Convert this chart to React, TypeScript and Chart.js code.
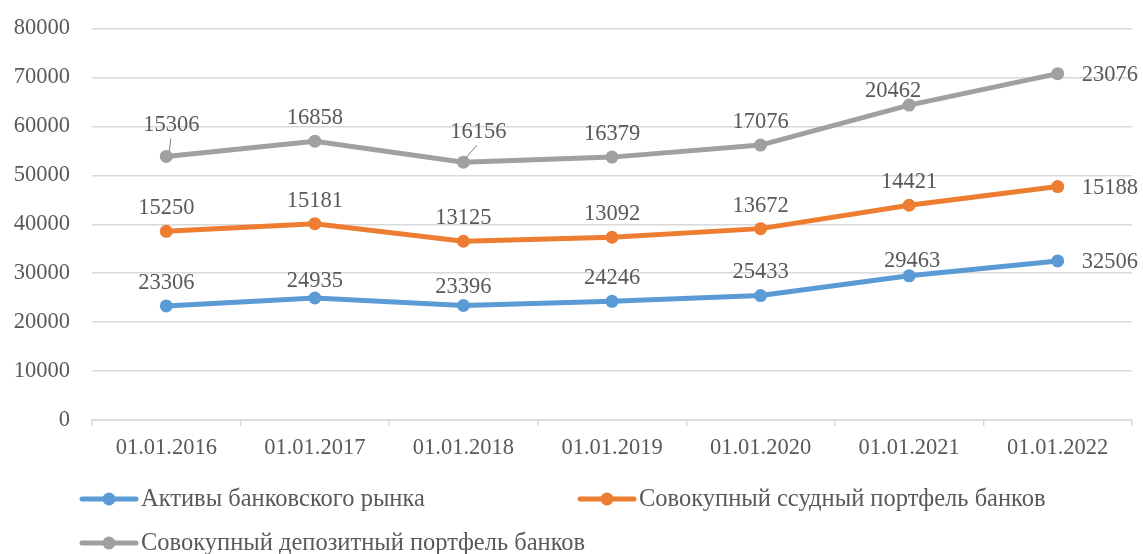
import React, { useEffect, useRef } from "react";
import { Chart, registerables } from "chart.js";

Chart.register(...registerables);

const categories = ["01.01.2016", "01.01.2017", "01.01.2018", "01.01.2019", "01.01.2020", "01.01.2021", "01.01.2022"];
const seriesNames = [
  "Активы банковского рынка",
  "Совокупный ссудный портфель банков",
  "Совокупный депозитный портфель банков",
];
const assets = [23306, 24935, 23396, 24246, 25433, 29463, 32506];
const loans = [15250, 15181, 13125, 13092, 13672, 14421, 15188];
const deposits = [15306, 16858, 16156, 16379, 17076, 20462, 23076];
const colors = ["#5B9BD5", "#ED7D31", "#9FA0A0"];

const FONT = "'Liberation Serif', 'Times New Roman', serif";
const TEXT = "#595959";
const FS = 22.5;
const LEGEND_FS = 24.5;
const SHIFT = 7;

// label nudges (style only): key "dataset-index" -> [dx, dy, leaderLine]
const labelNudges: Record<string, [number, number, boolean]> = {
  "0-1": [0, -17, false],
  "0-2": [0, -18, false],
  "0-5": [3, -15, false],
  "2-0": [5, -31, true],
  "2-2": [15, -30, true],
  "2-5": [-16, -14, false],
};

const labelPlugin = {
  id: "valueLabels",
  afterDatasetsDraw(chart: any) {
    const ctx = chart.ctx;
    ctx.save();
    ctx.font = `${FS}px ${FONT}`;
    chart.data.datasets.forEach((ds: any, di: number) => {
      const meta = chart.getDatasetMeta(di);
      meta.data.forEach((pt: any, i: number) => {
        const v = ds.data[i];
        const last = i === ds.data.length - 1;
        ctx.textBaseline = "middle";
        ctx.fillStyle = TEXT;
        if (last) {
          ctx.textAlign = "left";
          ctx.fillText(String(v), pt.x + 24, pt.y + 1);
        } else {
          const n = labelNudges[`${di}-${i}`] || [0, -23, false];
          ctx.textAlign = "center";
          ctx.fillText(String(v), pt.x + n[0], pt.y + n[1]);
          if (n[2]) {
            ctx.strokeStyle = "#7F7F7F";
            ctx.lineWidth = 1;
            ctx.beginPath();
            ctx.moveTo(pt.x + 3, pt.y - 5);
            ctx.lineTo(pt.x + n[0] * 0.9, pt.y + n[1] + 13);
            ctx.stroke();
          }
        }
      });
    });
    ctx.restore();
  },
};

const legendPlugin = {
  id: "customLegend",
  afterDraw(chart: any) {
    const ctx = chart.ctx;
    const items = [
      { x: 82, y: 499 + SHIFT },
      { x: 580, y: 499 + SHIFT },
      { x: 82, y: 543 + SHIFT },
    ];
    ctx.save();
    ctx.font = `${LEGEND_FS}px ${FONT}`;
    ctx.textBaseline = "middle";
    ctx.textAlign = "left";
    items.forEach((it, i) => {
      ctx.strokeStyle = colors[i];
      ctx.lineWidth = 5;
      ctx.lineCap = "round";
      ctx.beginPath();
      ctx.moveTo(it.x, it.y);
      ctx.lineTo(it.x + 54, it.y);
      ctx.stroke();
      ctx.fillStyle = colors[i];
      ctx.beginPath();
      ctx.arc(it.x + 27, it.y, 6.5, 0, Math.PI * 2);
      ctx.fill();
      ctx.fillStyle = TEXT;
      ctx.fillText(seriesNames[i], it.x + 59, it.y + 1);
    });
    ctx.restore();
  },
};

export default function App() {
  const ref = useRef<HTMLCanvasElement>(null);
  useEffect(() => {
    document.body.style.margin = "0";
    const series = [assets, loans, deposits];
    const chart = new Chart(ref.current!, {
      type: "line",
      data: {
        labels: categories,
        datasets: series.map((d, i) => ({
          label: seriesNames[i],
          data: d,
          borderColor: colors[i],
          backgroundColor: colors[i],
          borderWidth: 5,
          pointRadius: 6.5,
          pointHoverRadius: 6.5,
          pointBackgroundColor: colors[i],
          pointBorderWidth: 0,
          fill: false,
          tension: 0,
        })),
      },
      options: {
        animation: false,
        responsive: false,
        maintainAspectRatio: false,
        layout: { padding: { top: 5, right: 11, left: 0, bottom: 0 } },
        plugins: { legend: { display: false }, tooltip: { enabled: false } },
        scales: {
          x: {
            offset: true,
            grid: {
              offset: true,
              drawOnChartArea: false,
              drawTicks: true,
              tickLength: 6,
              color: "#D9D9D9",
              lineWidth: 1.5,
            },
            border: { color: "#D9D9D9", width: 1.5 },
            ticks: { color: TEXT, font: { family: FONT, size: FS }, padding: 9, maxRotation: 0 },
            afterFit: (s: any) => {
              s.height = 134;
            },
          },
          y: {
            stacked: true,
            min: 0,
            max: 80000,
            grid: { color: "#D9D9D9", lineWidth: 1.5, drawTicks: false },
            border: { display: false },
            ticks: {
              stepSize: 10000,
              color: TEXT,
              font: { family: FONT, size: FS },
              padding: 22,
              callback: (v: any) => String(v),
            },
            afterFit: (s: any) => {
              s.width = 92;
            },
          },
        },
      },
      plugins: [labelPlugin, legendPlugin],
    });
    return () => chart.destroy();
  }, []);
  return (
    <div style={{ width: 1143, height: 554, overflow: "hidden" }}>
      <canvas ref={ref} width={1143} height={554 + SHIFT} style={{ display: "block", marginTop: -SHIFT }} />
    </div>
  );
}
